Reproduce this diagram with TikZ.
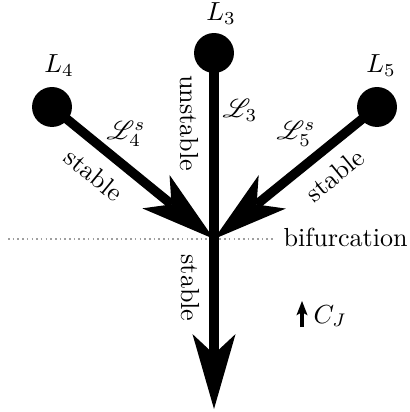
\documentclass[tikz,border=0pt]{standalone}
\usepackage{mathrsfs}
\usetikzlibrary{arrows.meta}
\begin{document}
\begin{tikzpicture}[x=0.383pt,y=-0.383pt,
  pt/.style={circle,fill=black,inner sep=0pt,minimum size=15.3pt},
  thickline/.style={line width=3.6pt,black},
  bigarrow/.style={thickline,-{Stealth[length=28.7pt,width=16.5pt,inset=7.7pt,line width=0pt]}},
  lbl/.style={inner sep=0pt},
  bif/.style={gray!75,line width=0.65pt,dash pattern=on 0.6pt off 1.2pt}]
\useasboundingbox (0,0) rectangle (409,412);
% points
\node[pt] (L3) at (214,53) {};
\node[pt] (L4) at (52,107) {};
\node[pt] (L5) at (377,107) {};
\coordinate (J) at (214,239);
\coordinate (B) at (214,409);
\coordinate (d1) at (8,239);
\coordinate (d2) at (275,239);
% bifurcation dotted line
\draw[bif] (d1) -- (d2);
\node[lbl,anchor=base west] (bifl) at (283,247) {bifurcation};
% branches
\draw[thickline] (L3.center) -- (J);
\draw[bigarrow] (J) -- (B);
\draw[bigarrow] (L4.center) -- (J);
\draw[bigarrow] (L5.center) -- (J);
% labels
\node[lbl] (t3) at (221,14) {$L_3$};
\node[lbl] (t4) at (59,66) {$L_4$};
\node[lbl] (t5) at (381,66) {$L_5$};
\node[lbl] (s3) at (240,110) {$\mathscr{L}_3$};
\node[lbl] (s4) at (126,134) {$\mathscr{L}_4^s$};
\node[lbl] (s5) at (296,134) {$\mathscr{L}_5^s$};
\node[lbl,rotate=-90] (u3) at (189,123) {unstable};
\node[lbl,rotate=-90] (sb) at (190,288) {stable};
\node[lbl,rotate=-39.3] (sl) at (94,175) {stable};
\node[lbl,rotate=39.3] (sr) at (335,175) {stable};
% C_J
\coordinate (c1) at (302,327);
\coordinate (c2) at (302,301);
\draw[line width=1.3pt,-{Stealth[length=5.5pt,width=4.3pt,inset=1.2pt,line width=0pt]}] (c1) -- (c2);
\node[lbl,anchor=base west] (cj) at (313,323) {$C_J$};
\end{tikzpicture}
\end{document}
